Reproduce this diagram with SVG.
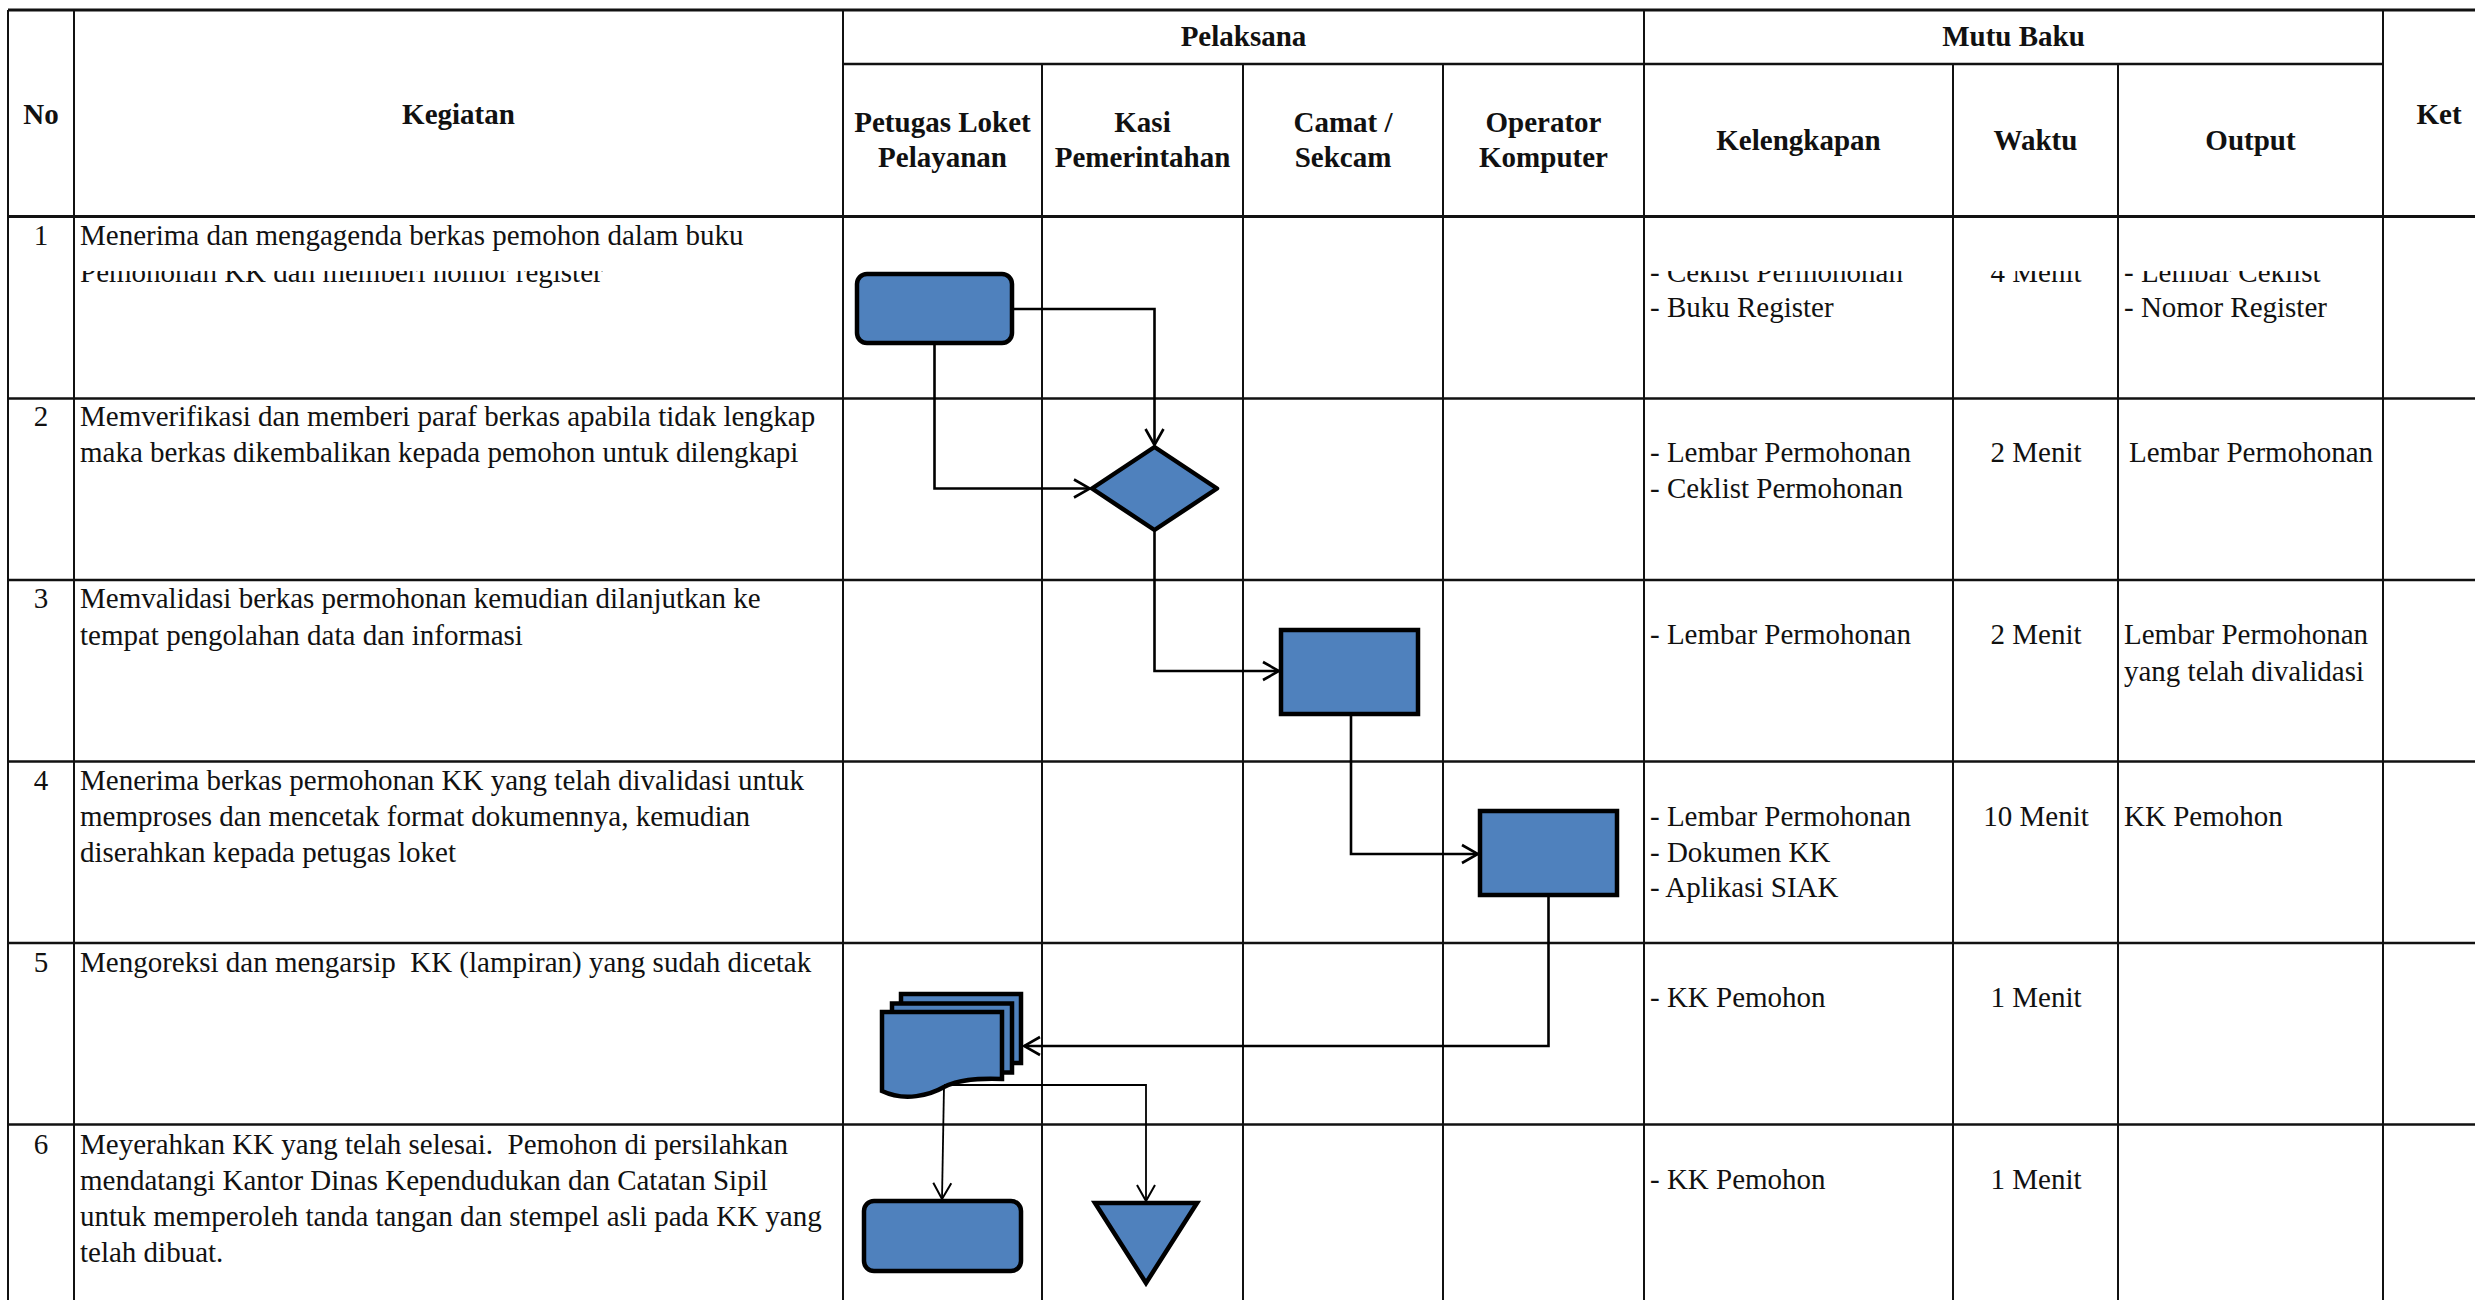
<svg xmlns="http://www.w3.org/2000/svg" width="2475" height="1300" viewBox="0 0 2475 1300">
<style>
.g{stroke:#111;stroke-width:2;fill:none}
.gh{stroke:#111;stroke-width:2.6;fill:none}
.t{font-family:"Liberation Serif","Times New Roman",serif;font-size:29px;fill:#111;white-space:pre}
.h{font-family:"Liberation Serif","Times New Roman",serif;font-size:29px;font-weight:bold;fill:#111;text-anchor:middle}
.c{text-anchor:middle}
.n{fill:#4F81BD;stroke:#000;stroke-width:4.5;stroke-linejoin:round}
.e{fill:none;stroke:#000;stroke-width:2.6}
.e2{fill:none;stroke:#000;stroke-width:1.8}
</style>
<defs>
<marker id="arr" viewBox="-20 -12 22 24" refX="0" refY="0" markerWidth="22" markerHeight="24" markerUnits="userSpaceOnUse" orient="auto">
<path d="M-16,-9 L0,0 L-16,9" fill="none" stroke="#000" stroke-width="2.6"/>
</marker>
<marker id="arr2" viewBox="-20 -12 22 24" refX="0" refY="0" markerWidth="22" markerHeight="24" markerUnits="userSpaceOnUse" orient="auto">
<path d="M-16,-9 L0,0 L-16,9" fill="none" stroke="#000" stroke-width="2"/>
</marker>
<clipPath id="clipRow1"><rect x="0" y="271" width="2475" height="200"/></clipPath>
</defs>
<rect width="2475" height="1300" fill="#fff"/>

<g id="grid">
<line class="gh" x1="8" y1="10" x2="2475" y2="10" style="stroke-width:3.2"/>
<line class="gh" x1="843" y1="64" x2="2383" y2="64"/>
<line class="gh" x1="8" y1="216.5" x2="2475" y2="216.5" style="stroke-width:3"/>
<line class="gh" x1="8" y1="398.5" x2="2475" y2="398.5"/>
<line class="gh" x1="8" y1="580" x2="2475" y2="580"/>
<line class="gh" x1="8" y1="761.5" x2="2475" y2="761.5"/>
<line class="gh" x1="8" y1="943" x2="2475" y2="943"/>
<line class="gh" x1="8" y1="1124.5" x2="2475" y2="1124.5"/>
<line class="g" x1="8" y1="10" x2="8" y2="1300"/>
<line class="g" x1="74" y1="10" x2="74" y2="1300"/>
<line class="g" x1="843" y1="10" x2="843" y2="1300"/>
<line class="g" x1="1042" y1="64" x2="1042" y2="1300"/>
<line class="g" x1="1243" y1="64" x2="1243" y2="1300"/>
<line class="g" x1="1443" y1="64" x2="1443" y2="1300"/>
<line class="g" x1="1644" y1="10" x2="1644" y2="1300"/>
<line class="g" x1="1953" y1="64" x2="1953" y2="1300"/>
<line class="g" x1="2118" y1="64" x2="2118" y2="1300"/>
<line class="g" x1="2383" y1="10" x2="2383" y2="1300"/>
</g>

<g id="header">
<text class="h" x="41" y="124">No</text>
<text class="h" x="458.5" y="124">Kegiatan</text>
<text class="h" x="1243.5" y="46">Pelaksana</text>
<text class="h" x="2013.5" y="46">Mutu Baku</text>
<text class="h" x="2439" y="124">Ket</text>
<text class="h" x="942.5" y="131.5">Petugas Loket</text>
<text class="h" x="942.5" y="167">Pelayanan</text>
<text class="h" x="1142.5" y="131.5">Kasi</text>
<text class="h" x="1142.5" y="167">Pemerintahan</text>
<text class="h" x="1343" y="131.5">Camat /</text>
<text class="h" x="1343" y="167">Sekcam</text>
<text class="h" x="1543.5" y="131.5">Operator</text>
<text class="h" x="1543.5" y="167">Komputer</text>
<text class="h" x="1798.5" y="150">Kelengkapan</text>
<text class="h" x="2035.5" y="150">Waktu</text>
<text class="h" x="2250.5" y="150">Output</text>
</g>

<g id="row1">
<text class="t c" x="41" y="245">1</text>
<text class="t" x="80" y="245">Menerima dan mengagenda berkas pemohon dalam buku</text>
<g clip-path="url(#clipRow1)">
<text class="t" x="80" y="282">Pemohonan KK dan memberi nomor register</text>
<text class="t" x="1650" y="282">- Ceklist Permohonan</text>
<text class="t c" x="2036" y="282">4 Menit</text>
<text class="t" x="2124" y="282">- Lembar Ceklist</text>
</g>
<text class="t" x="1650" y="317">- Buku Register</text>
<text class="t" x="2124" y="317">- Nomor Register</text>
</g>

<g id="row2">
<text class="t c" x="41" y="426">2</text>
<text class="t" x="80" y="426">Memverifikasi dan memberi paraf berkas apabila tidak lengkap</text>
<text class="t" x="80" y="462">maka berkas dikembalikan kepada pemohon untuk dilengkapi</text>
<text class="t" x="1650" y="462">- Lembar Permohonan</text>
<text class="t" x="1650" y="498">- Ceklist Permohonan</text>
<text class="t c" x="2036" y="462">2 Menit</text>
<text class="t" x="2129" y="462">Lembar Permohonan</text>
</g>

<g id="row3">
<text class="t c" x="41" y="608">3</text>
<text class="t" x="80" y="608">Memvalidasi berkas permohonan kemudian dilanjutkan ke</text>
<text class="t" x="80" y="645">tempat pengolahan data dan informasi</text>
<text class="t" x="1650" y="644">- Lembar Permohonan</text>
<text class="t c" x="2036" y="644">2 Menit</text>
<text class="t" x="2124" y="644">Lembar Permohonan</text>
<text class="t" x="2124" y="681">yang telah divalidasi</text>
</g>

<g id="row4">
<text class="t c" x="41" y="790">4</text>
<text class="t" x="80" y="790">Menerima berkas permohonan KK yang telah divalidasi untuk</text>
<text class="t" x="80" y="826">memproses dan mencetak format dokumennya, kemudian</text>
<text class="t" x="80" y="862">diserahkan kepada petugas loket</text>
<text class="t" x="1650" y="826">- Lembar Permohonan</text>
<text class="t" x="1650" y="862">- Dokumen KK</text>
<text class="t" x="1650" y="897">- Aplikasi SIAK</text>
<text class="t c" x="2036" y="826">10 Menit</text>
<text class="t" x="2124" y="826">KK Pemohon</text>
</g>

<g id="row5">
<text class="t c" x="41" y="972">5</text>
<text class="t" x="80" y="972">Mengoreksi dan mengarsip  KK (lampiran) yang sudah dicetak</text>
<text class="t" x="1650" y="1007">- KK Pemohon</text>
<text class="t c" x="2036" y="1007">1 Menit</text>
</g>

<g id="row6">
<text class="t c" x="41" y="1154">6</text>
<text class="t" x="80" y="1154">Meyerahkan KK yang telah selesai.  Pemohon di persilahkan</text>
<text class="t" x="80" y="1190">mendatangi Kantor Dinas Kependudukan dan Catatan Sipil</text>
<text class="t" x="80" y="1226">untuk memperoleh tanda tangan dan stempel asli pada KK yang</text>
<text class="t" x="80" y="1262">telah dibuat.</text>
<text class="t" x="1650" y="1189">- KK Pemohon</text>
<text class="t c" x="2036" y="1189">1 Menit</text>
</g>

<g id="node-terima">
<rect class="n" x="857" y="274" width="155" height="69" rx="10"/>
</g>
<g id="node-verifikasi">
<polygon class="n" points="1154.5,447 1217,488.5 1154.5,530 1092,488.5"/>
</g>
<g id="node-validasi">
<rect class="n" x="1281" y="630" width="137" height="84" style="stroke-linejoin:miter"/>
</g>
<g id="node-proses">
<rect class="n" x="1480" y="811" width="137" height="84" style="stroke-linejoin:miter"/>
</g>
<g id="node-dokumen">
<rect class="n" x="901" y="994" width="120" height="69" style="stroke-linejoin:miter"/>
<rect class="n" x="892" y="1003.5" width="120" height="69" style="stroke-linejoin:miter"/>
<path class="n" style="stroke-linejoin:miter" d="M882,1012 L1002,1012 L1002,1079 C975,1078 958,1080 944,1087 C930,1095 905,1102 882,1091 Z"/>
</g>
<g id="node-serahkan">
<rect class="n" x="864" y="1201" width="157" height="70" rx="10"/>
</g>
<g id="node-arsip">
<polygon class="n" points="1095,1203 1197,1203 1146,1283" style="stroke-linejoin:miter"/>
</g>

<g id="connectors">
<polyline class="e" points="1012,309 1154.5,309 1154.5,445" marker-end="url(#arr)"/>
<polyline class="e" points="934.5,343 934.5,488.5 1090,488.5" marker-end="url(#arr)"/>
<polyline class="e" points="1154.5,530 1154.5,671 1279,671" marker-end="url(#arr)"/>
<polyline class="e" points="1351,714 1351,854 1478,854" marker-end="url(#arr)"/>
<polyline class="e" points="1548.5,895 1548.5,1046 1024,1046" marker-end="url(#arr)"/>
<polyline class="e2" points="944,1086 942,1199" marker-end="url(#arr2)"/>
<polyline class="e2" points="944,1085 1146,1085 1146,1201" marker-end="url(#arr2)"/>
</g>
</svg>
